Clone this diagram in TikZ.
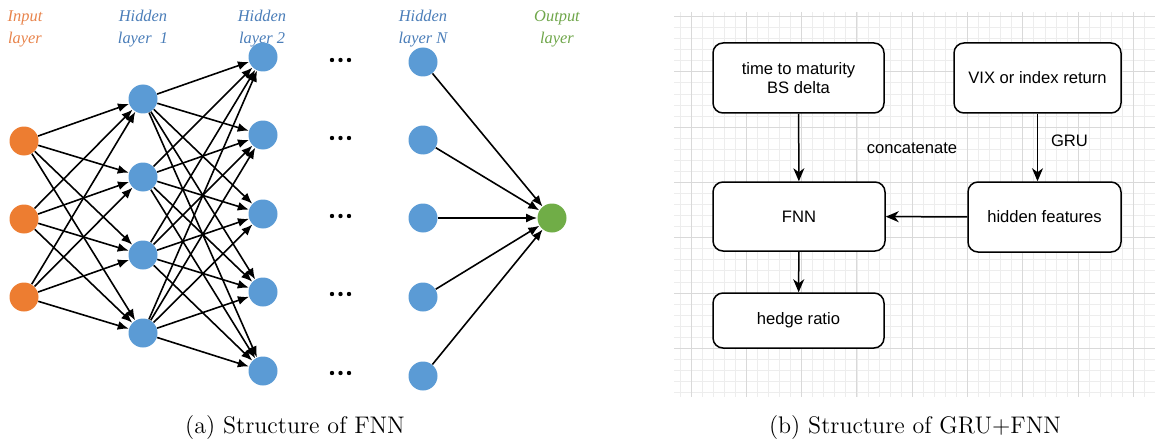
\documentclass[tikz,border=0pt]{standalone}
\usepackage{fontspec}
\setsansfont{Liberation Sans}
\newfontfamily\layerfont{Liberation Serif}
\usetikzlibrary{arrows.meta}

\definecolor{inorange}{HTML}{ED7D31}
\definecolor{hidblue}{HTML}{5B9BD5}
\definecolor{outgreen}{HTML}{70AD47}
\definecolor{inlabel}{HTML}{E8844C}
\definecolor{hidlabel}{HTML}{4A7DB8}
\definecolor{outlabel}{HTML}{6FA64A}
\definecolor{gridmajor}{HTML}{D9D9D9}
\definecolor{gridminor}{HTML}{EDEDED}

\begin{document}
\begin{tikzpicture}[x=0.5pt, y=-0.5pt,
    neuron/.style={circle, minimum size=14.5pt, inner sep=0pt},
    layerlabel/.style={align=center, font=\layerfont\itshape\fontsize{8.2}{11}\selectfont},
    synapse/.style={-{Latex[length=5.5pt,width=4.5pt]}, line width=0.8pt},
    flowbox/.style={rectangle, draw, rounded corners=5pt, fill=white, line width=0.75pt, align=center, font=\sffamily\fontsize{8.3}{9.5}\selectfont},
    flowarrow/.style={-{Stealth[length=6.5pt,width=5.5pt,inset=2pt]}, line width=0.75pt},
    boxtext/.style={font=\sffamily\fontsize{8.3}{9.5}\selectfont}]
    \useasboundingbox (0,0) rectangle (1155,444);

    % (a) the feed-forward net
    \node[layerlabel, text=inlabel] (inputlabel) at (25,29) {Input\\layer};
    \node[layerlabel, text=hidlabel] (hidlabela) at (143,29) {Hidden\\layer~ 1};
    \node[layerlabel, text=hidlabel] (hidlabelb) at (262,29) {Hidden\\layer 2};
    \node[layerlabel, text=hidlabel] (hidlabeln) at (423,29) {Hidden\\layer N};
    \node[layerlabel, text=outlabel] (outputlabel) at (557,29) {Output\\layer};

    \foreach \n/\y in {1/141,2/219,3/297}
        \node[neuron, fill=inorange] (in\n) at (24,\y) {};
    \foreach \n/\y in {1/99,2/177,3/255,4/333}
        \node[neuron, fill=hidblue] (ha\n) at (143,\y) {};
    \foreach \n/\y in {1/57,2/135,3/214,4/292,5/371}
        \node[neuron, fill=hidblue] (hb\n) at (263,\y) {};
    \foreach \n/\y in {1/62,2/140,3/218,4/297,5/376}
        \node[neuron, fill=hidblue] (hn\n) at (423,\y) {};
    \node[neuron, fill=outgreen] (out) at (552,218) {};

    \foreach \y in {60,138,216,294,373}
        \foreach \x in {332,340.5,349}
            \fill (\x,\y) circle (2.2);

    \foreach \i in {1,2,3}
        \foreach \j in {1,...,4}
            \draw[synapse] (in\i) -- (ha\j);
    \foreach \i in {1,...,4}
        \foreach \j in {1,...,5}
            \draw[synapse] (ha\i) -- (hb\j);
    \foreach \i in {1,...,5}
        \draw[synapse] (hn\i) -- (out);

    \node (capa) at (295,428) {\fontsize{12}{14}\selectfont (a) Structure of FNN};

    % (b) the GRU+FNN flow
    \fill[white] (674,12) rectangle (1155,397);
    \begin{scope}
        \clip (674,12) rectangle (1155,397);
        \foreach \k in {-1,...,42}
            \draw[gridminor, line width=0.4pt] ({691+\k*11.06},12) -- ({691+\k*11.06},397);
        \foreach \k in {0,...,34}
            \draw[gridminor, line width=0.4pt] (674,{16.5+\k*11.06}) -- (1155,{16.5+\k*11.06});
        \foreach \k in {0,...,8}
            \draw[gridmajor, line width=0.5pt] ({691+\k*55.3},12) -- ({691+\k*55.3},397);
        \foreach \k in {0,...,6}
            \draw[gridmajor, line width=0.5pt] (674,{16.5+\k*55.3}) -- (1155,{16.5+\k*55.3});
    \end{scope}

    \node[flowbox, minimum width=85.5pt, minimum height=35pt] (maturity) at (798.5,78) {time to maturity\\BS delta};
    \node[flowbox, minimum width=83.5pt, minimum height=35pt] (vix) at (1037.5,78) {VIX or index return};
    \node[flowbox, minimum width=86pt, minimum height=34.5pt] (fnn) at (799,216.5) {FNN};
    \node[flowbox, minimum width=76.5pt, minimum height=35pt] (hidden) at (1044.5,217) {hidden features};
    \node[flowbox, minimum width=85.5pt, minimum height=27.5pt] (hedge) at (798.5,320.5) {hedge ratio};

    \draw[flowarrow] (maturity) -- (fnn);
    \draw[flowarrow] (vix.south) -- (vix.south |- hidden.north);
    \draw[flowarrow] (hidden) -- (fnn);
    \draw[flowarrow] (fnn) -- (hedge);

    \node[boxtext, anchor=west] (gru) at (1044,141) {GRU};
    \node[boxtext] (concat) at (912,148) {concatenate};

    \node (capb) at (915,428) {\fontsize{12}{14}\selectfont (b) Structure of GRU+FNN};
\end{tikzpicture}
\end{document}
